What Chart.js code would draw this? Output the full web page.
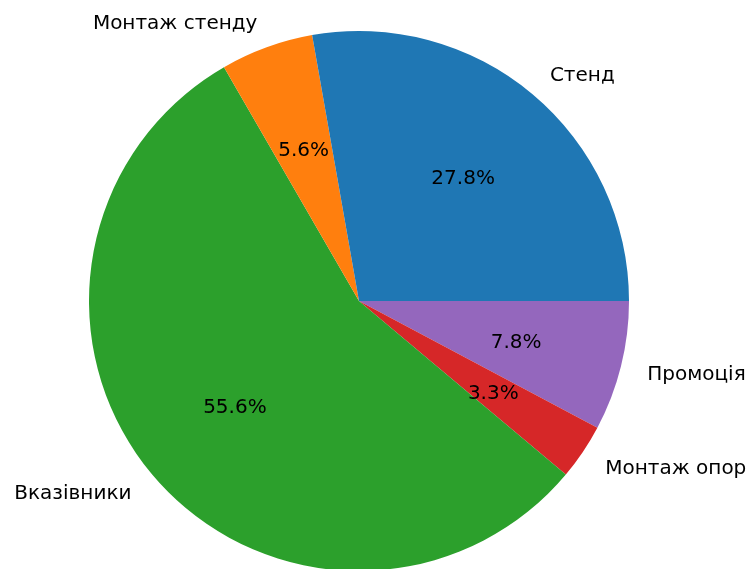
<!DOCTYPE html>
<html>
<head>
<meta charset="utf-8">
<script src="https://cdn.jsdelivr.net/npm/chart.js@4/dist/chart.umd.min.js"></script>
<style>
  html, body { margin: 0; padding: 0; background: #fff; overflow: hidden; }
  canvas { display: block; }
</style>
</head>
<body>
<canvas id="pieChart" width="750" height="600"></canvas>
<script>
// budget split, in the order the slices go round (counter-clockwise from 3 o'clock)
const labels = ['Стенд', 'Монтаж стенду', 'Вказівники', 'Монтаж опор', 'Промоція'];
const amounts = [25, 5, 50, 3, 7];
const colors = ['#1f77b4', '#ff7f0e', '#2ca02c', '#d62728', '#9467bd'];

// chart.js goes clockwise, so feed it the slices backwards
const revLabels = labels.slice().reverse();
const revAmounts = amounts.slice().reverse();
const revColors = colors.slice().reverse();

const FONT_SIZE = 20;
const FONT = FONT_SIZE + 'px "DejaVu Sans"';

// names outside the pie and percentages inside, like a matplotlib autopct pie
const sliceText = {
    id: 'sliceText',
    afterDatasetsDraw(chart) {
        const ctx = chart.ctx;
        const arcs = chart.getDatasetMeta(0).data;
        const total = revAmounts.reduce((a, b) => a + b, 0);
        const shift = 0.37 * FONT_SIZE; // baseline sits a bit below the anchor point
        ctx.save();
        ctx.font = FONT;
        ctx.fillStyle = '#000';
        ctx.textBaseline = 'alphabetic';
        arcs.forEach((arc, i) => {
            const p = arc.getProps(['x', 'y', 'startAngle', 'endAngle', 'outerRadius'], true);
            const mid = (p.startAngle + p.endAngle) / 2;
            const c = Math.cos(mid), s = Math.sin(mid);

            const lx = p.x + 1.1 * p.outerRadius * c;
            const ly = p.y + 1.1 * p.outerRadius * s;
            ctx.textAlign = c >= 0 ? 'left' : 'right';
            ctx.fillText(revLabels[i], lx, ly + shift);

            const px = p.x + 0.6 * p.outerRadius * c;
            const py = p.y + 0.6 * p.outerRadius * s;
            ctx.textAlign = 'center';
            ctx.fillText((revAmounts[i] / total * 100).toFixed(1) + '%', px, py + shift);
        });
        ctx.restore();
    }
};

const ctx = document.getElementById('pieChart').getContext('2d');
const myChart = new Chart(ctx, {
    type: 'pie',
    data: {
        labels: revLabels,
        datasets: [{
            data: revAmounts,
            backgroundColor: revColors,
            borderWidth: 0
        }]
    },
    options: {
        responsive: false,
        animation: false,
        rotation: 90,
        layout: {
            padding: { left: 89, right: 121, top: 31, bottom: 29 }
        },
        plugins: {
            legend: { display: false },
            tooltip: { enabled: false }
        }
    },
    plugins: [sliceText]
});
</script>
</body>
</html>
